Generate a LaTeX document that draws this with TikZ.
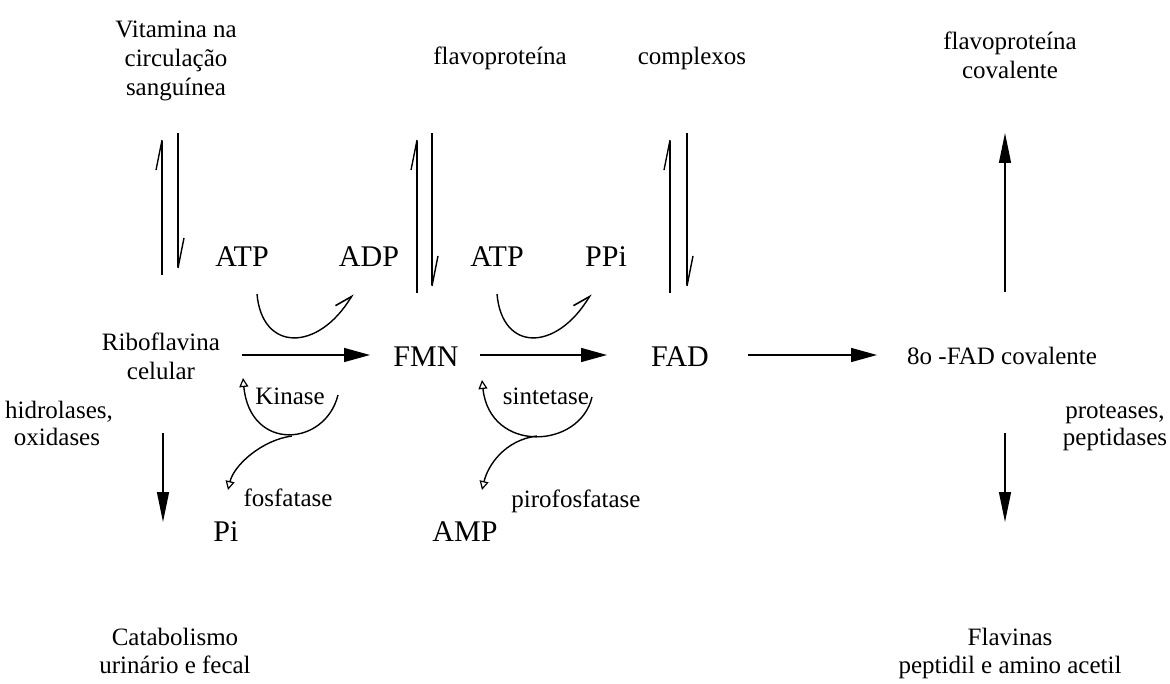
\documentclass[tikz,border=0pt]{standalone}
\usepackage{fontspec}
\setmainfont{Liberation Serif}
\usetikzlibrary{arrows.meta}
\begin{document}
\begin{tikzpicture}[x=1pt,y=-1pt,
  txt/.style={font=\fontsize{25}{29}\selectfont, inner sep=0pt, anchor=base},
  big/.style={font=\fontsize{30}{34}\selectfont, inner sep=0pt, anchor=base},
  ln/.style={line width=1.4pt},
  harp/.style={ln, -{Straight Barb[left,length=30pt,width=12pt,line width=1.4pt]}},
  mainarrow/.style={ln, -{Triangle[length=26pt,width=14pt]}},
  vertarrow/.style={ln, -{Triangle[length=30pt,width=12pt]}},
  hookarrow/.style={ln, -{Straight Barb[left,length=16pt,width=18pt,line width=1.6pt]}},
  openarrow/.style={ln, -{Triangle[open,length=9pt,width=9pt,line width=1.2pt]}},
]
\useasboundingbox (0,0) rectangle (1170,684);

% ---- top labels
\node[txt] (vit1) at (176,38) {Vitamina na};
\node[txt] (vit2) at (176,67) {circulação};
\node[txt] (vit3) at (176,96) {sanguínea};
\node[txt] (flav) at (500,65) {flavoproteína};
\node[txt] (compl) at (692,65) {complexos};
\node[txt] (fcov1) at (1010,50) {flavoproteína};
\node[txt] (fcov2) at (1010,79) {covalente};

% ---- cofactors
\node[big] (atpA) at (242,267) {ATP};
\node[big] (adp) at (369,267) {ADP};
\node[big] (atpB) at (497,267) {ATP};
\node[big] (ppi) at (606,267) {PPi};

% ---- main row
\node[txt] (ribo1) at (161,351) {Riboflavina};
\node[txt] (ribo2) at (161,380) {celular};
\node[big] (fmn) at (426,367) {FMN};
\node[big] (fad) at (680,367) {FAD};
\node[txt, anchor=base west] (cov) at (907,365) {8o -FAD covalente};

% ---- enzymes
\node[txt] (kin) at (290,405) {Kinase};
\node[txt] (fosf) at (288,506) {fosfatase};
\node[txt] (sint) at (546,405) {sintetase};
\node[txt] (pirof) at (576,507) {pirofosfatase};
\node[big] (pi) at (226,541) {Pi};
\node[big] (amp) at (465,541) {AMP};

% ---- side labels
\node[txt, anchor=base west] (hid1) at (5,418) {hidrolases,};
\node[txt] (hid2) at (57,446) {oxidases};
\node[txt] (prot1) at (1115,418) {proteases,};
\node[txt] (prot2) at (1115,446) {peptidases};

% ---- bottom labels
\node[txt] (cat1) at (175,645) {Catabolismo};
\node[txt] (cat2) at (175,673) {urinário e fecal};
\node[txt] (fl1) at (1010,645) {Flavinas};
\node[txt] (fl2) at (1010,673) {peptidil e amino acetil};

% ---- connector end points
\coordinate (vU0) at (162,275); \coordinate (vU1) at (162,133);
\coordinate (vD0) at (178,133); \coordinate (vD1) at (178,275);
\coordinate (mU0) at (417,293); \coordinate (mU1) at (417,133);
\coordinate (mD0) at (432,133); \coordinate (mD1) at (432,293);
\coordinate (dU0) at (670,293); \coordinate (dU1) at (670,133);
\coordinate (dD0) at (687,133); \coordinate (dD1) at (687,293);
\coordinate (a1s) at (242,355); \coordinate (a1e) at (370,355);
\coordinate (a2s) at (480,355); \coordinate (a2e) at (607,355);
\coordinate (a3s) at (748,355); \coordinate (a3e) at (877,355);
\coordinate (upS) at (1005,292); \coordinate (upE) at (1005,133);
\coordinate (dlS) at (163,433); \coordinate (dlE) at (163,522);
\coordinate (drS) at (1005,433); \coordinate (drE) at (1005,522);

% reversible exchanges
\draw[harp] (vU0) -- (vU1);
\draw[harp] (vD0) -- (vD1);
\draw[harp] (mU0) -- (mU1);
\draw[harp] (mD0) -- (mD1);
\draw[harp] (dU0) -- (dU1);
\draw[harp] (dD0) -- (dD1);

% main pathway
\draw[mainarrow] (a1s) -- (a1e);
\draw[mainarrow] (a2s) -- (a2e);
\draw[mainarrow] (a3s) -- (a3e);
\draw[vertarrow] (upS) -- (upE);
\draw[vertarrow] (dlS) -- (dlE);
\draw[vertarrow] (drS) -- (drE);

% cofactor loops
\coordinate (c1s) at (257,294); \coordinate (c1e) at (353,294);
\draw[hookarrow] (c1s) .. controls (262,352) and (318,352) .. (c1e);
\coordinate (c2s) at (497,294); \coordinate (c2e) at (591,294);
\draw[hookarrow] (c2s) .. controls (502,352) and (556,352) .. (c2e);

% kinase / phosphatase
\coordinate (k0) at (338,395); \coordinate (k1) at (243,378);
\coordinate (kj) at (292,436); \coordinate (k2) at (228,490);
\draw[openarrow] (k0) .. controls (325,447) and (250,452) .. (k1);
\draw[openarrow] (kj) .. controls (262,440) and (234,465) .. (k2);

% synthetase / pyrophosphatase
\coordinate (s0) at (592,397); \coordinate (s1) at (482,380);
\coordinate (sj) at (537,436); \coordinate (s2) at (482,490);
\draw[openarrow] (s0) .. controls (580,449) and (490,454) .. (s1);
\draw[openarrow] (sj) .. controls (505,440) and (488,465) .. (s2);
\end{tikzpicture}
\end{document}
